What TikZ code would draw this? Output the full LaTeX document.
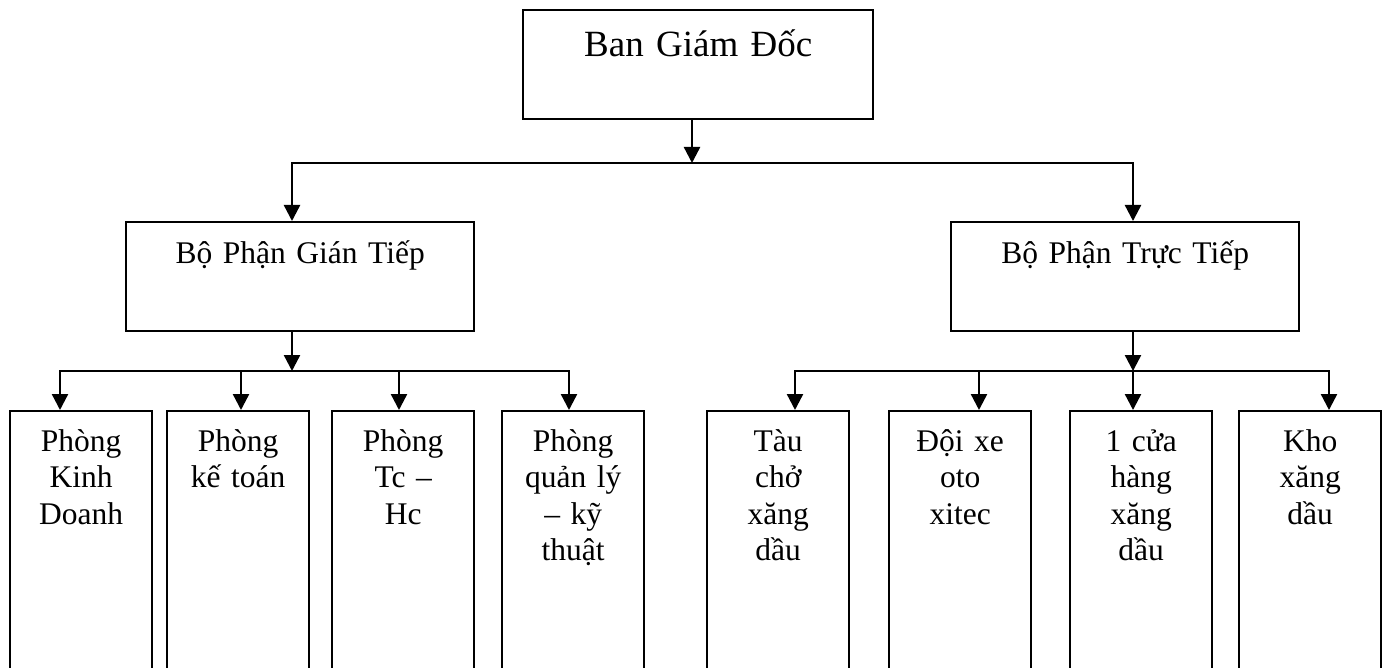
\documentclass[tikz,border=0pt]{standalone}
\usepackage{fontspec}
\setmainfont{Liberation Serif}
\usetikzlibrary{arrows.meta}
% box text hangs from the top edge: #1 box height, #2 first baseline
\newcommand{\toptext}[3]{\parbox[t][#1][t]{\linewidth}{\centering\rule{0pt}{#2}#3}}
\tikzset{
  unitbox/.style={draw=black,line width=2.4pt,inner sep=0pt,anchor=north west,font=\fontsize{31.5}{36.5}\selectfont},
  headbox/.style={unitbox,text width=348pt},
  deptbox/.style={unitbox,text width=142pt},
  arr/.style={-{Triangle[length=16pt,width=16pt]},line width=2.4pt},
}

\begin{document}
\begin{tikzpicture}[x=1pt,y=-1pt]
  \useasboundingbox (0,0) rectangle (1386,668);
  \node[unitbox,text width=350pt,font=\fontsize{37}{42}\selectfont] (bgd) at (522,9) {\toptext{109pt}{46pt}{Ban Giám Đốc}};
  \node[headbox] (gt) at (125,221) {\toptext{109pt}{41pt}{Bộ Phận Gián Tiếp}};
  \node[headbox] (tt) at (950,221) {\toptext{109pt}{41pt}{Bộ Phận Trực Tiếp}};
  \node[deptbox] (p1) at (9,410) {\toptext{259pt}{40pt}{Phòng\\Kinh\\Doanh}};
  \node[deptbox] (p2) at (166,410) {\toptext{259pt}{40pt}{Phòng\\kế toán}};
  \node[deptbox] (p3) at (331,410) {\toptext{259pt}{40pt}{Phòng\\Tc –\\Hc}};
  \node[deptbox] (p4) at (501,410) {\toptext{259pt}{40pt}{Phòng\\quản lý\\– kỹ\\thuật}};
  \node[deptbox] (p5) at (706,410) {\toptext{259pt}{40pt}{Tàu\\chở\\xăng\\dầu}};
  \node[deptbox] (p6) at (888,410) {\toptext{259pt}{40pt}{Đội xe\\oto\\xitec}};
  \node[deptbox] (p7) at (1069,410) {\toptext{259pt}{40pt}{1 cửa\\hàng\\xăng\\dầu}};
  \node[deptbox] (p8) at (1238,410) {\toptext{259pt}{40pt}{Kho\\xăng\\dầu}};
  % bus junctions
  \coordinate (jtop) at (692,163);
  \coordinate (jl) at (292,371);
  \coordinate (jr) at (1133,371);
  \coordinate (a1) at (60,371);
  \coordinate (a2) at (241,371);
  \coordinate (a3) at (399,371);
  \coordinate (a4) at (569,371);
  \coordinate (a5) at (795,371);
  \coordinate (a6) at (979,371);
  \coordinate (a7) at (1133,371);
  \coordinate (a8) at (1329,371);
  \draw[arr] (bgd.south -| jtop) -- (jtop);
  \draw[arr] (jtop) -| (gt.north -| jl);
  \draw[arr] (jtop) -| (tt.north -| jr);
  \draw[arr] (gt.south -| jl) -- (jl);
  \draw[arr] (tt.south -| jr) -- (jr);
  \draw[arr] (jl) -| (p1.north -| a1);
  \draw[arr] (jl) -| (p2.north -| a2);
  \draw[arr] (jl) -| (p3.north -| a3);
  \draw[arr] (jl) -| (p4.north -| a4);
  \draw[arr] (jr) -| (p5.north -| a5);
  \draw[arr] (jr) -| (p6.north -| a6);
  \draw[arr] (jr) -- (p7.north -| a7);
  \draw[arr] (jr) -| (p8.north -| a8);
\end{tikzpicture}
\end{document}
